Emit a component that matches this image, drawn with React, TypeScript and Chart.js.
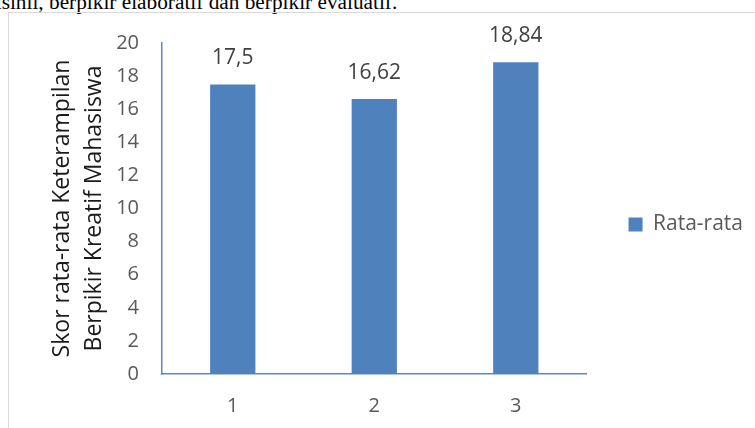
import React, { useEffect, useRef } from "react";
import { Chart, registerables } from "chart.js";

Chart.register(...registerables);

const categories = ["1", "2", "3"];
const seriesName = "Rata-rata";
const values = [17.5, 16.62, 18.84];
const yTicksMin = 0;
const yTicksMax = 20;
const yTickStep = 2;
const yTitleLines = ["Skor rata-rata Keterampilan", "Berpikir Kreatif Mahasiswa"];
const captionText = "orisinil, berpikir elaboratif dan berpikir evaluatif.";

const BAR_COLOR = "#4F81BD";
const AXIS_COLOR = "#5B8AC4";
const FONT = '"Open Sans", "DejaVu Sans", sans-serif';

const dataLabelPlugin = {
  id: "dataLabels",
  afterDatasetsDraw(chart: any) {
    const ctx = chart.ctx;
    const meta = chart.getDatasetMeta(0);
    ctx.save();
    ctx.font = `21px ${FONT}`;
    ctx.fillStyle = "#404040";
    ctx.textAlign = "center";
    ctx.textBaseline = "middle";
    meta.data.forEach((el: any, i: number) => {
      const v = chart.data.datasets[0].data[i];
      ctx.fillText(String(v).replace(".", ","), el.x, el.y - 26);
    });
    ctx.restore();
  },
};

export default function App() {
  const canvasRef = useRef<HTMLCanvasElement | null>(null);

  useEffect(() => {
    if (!canvasRef.current) return;
    const chart = new Chart(canvasRef.current, {
      type: "bar",
      data: {
        labels: categories,
        datasets: [
          {
            label: seriesName,
            data: values,
            backgroundColor: BAR_COLOR,
            borderWidth: 0,
            barPercentage: 0.32,
            categoryPercentage: 1,
          },
        ],
      },
      options: {
        responsive: false,
        animation: false,
        devicePixelRatio: 1,
        layout: { padding: { left: 0, top: 21, right: 2, bottom: 0 } },
        plugins: {
          legend: {
            position: "right",
            align: "center",
            labels: {
              boxWidth: 14,
              boxHeight: 14,
              padding: 42,
              color: "#595959",
              font: { family: FONT, size: 21 },
            },
          },
          tooltip: { enabled: false },
          title: {
            display: true,
            text: " ",
            padding: 0,
            font: { size: 10, lineHeight: 2.2 },
          },
        },
        scales: {
          x: {
            grid: { display: false, drawTicks: false },
            border: { display: true, color: AXIS_COLOR, width: 1.5 },
            ticks: { color: "#595959", font: { family: FONT, size: 20 }, padding: 20 },
            afterFit(scale: any) {
              scale.height = 54;
            },
          },
          y: {
            min: yTicksMin,
            max: yTicksMax,
            grid: { display: false, drawTicks: false },
            border: { display: true, color: AXIS_COLOR, width: 1.5 },
            ticks: {
              stepSize: yTickStep,
              color: "#595959",
              font: { family: FONT, size: 20 },
              padding: 23,
            },
            title: {
              display: true,
              text: yTitleLines,
              color: "#1a1a1a",
              font: { family: FONT, size: 23, lineHeight: 1.4 },
              padding: { top: 46, bottom: 0 },
            },
            afterFit(scale: any) {
              scale.width = 162;
            },
          },
        },
      },
      plugins: [dataLabelPlugin],
    });
    return () => chart.destroy();
  }, []);

  return (
    <div
      style={{
        position: "fixed",
        left: 0,
        top: 0,
        width: 755,
        height: 428,
        overflow: "hidden",
        background: "#ffffff",
      }}
    >
      <div
        style={{
          position: "absolute",
          left: -22,
          top: -8,
          fontFamily: '"Liberation Serif", "Times New Roman", serif',
          fontSize: "21.3px",
          lineHeight: 1,
          color: "#000",
          whiteSpace: "nowrap",
        }}
      >
        {captionText}
      </div>
      <div
        style={{
          position: "absolute",
          left: 8,
          top: 12,
          width: 900,
          height: 600,
          borderLeft: "1px solid #d9d9d9",
          borderTop: "1px solid #d9d9d9",
        }}
      />
      <canvas
        ref={canvasRef}
        width={755}
        height={428}
        style={{ position: "absolute", left: 0, top: 0, display: "block" }}
      />
    </div>
  );
}
